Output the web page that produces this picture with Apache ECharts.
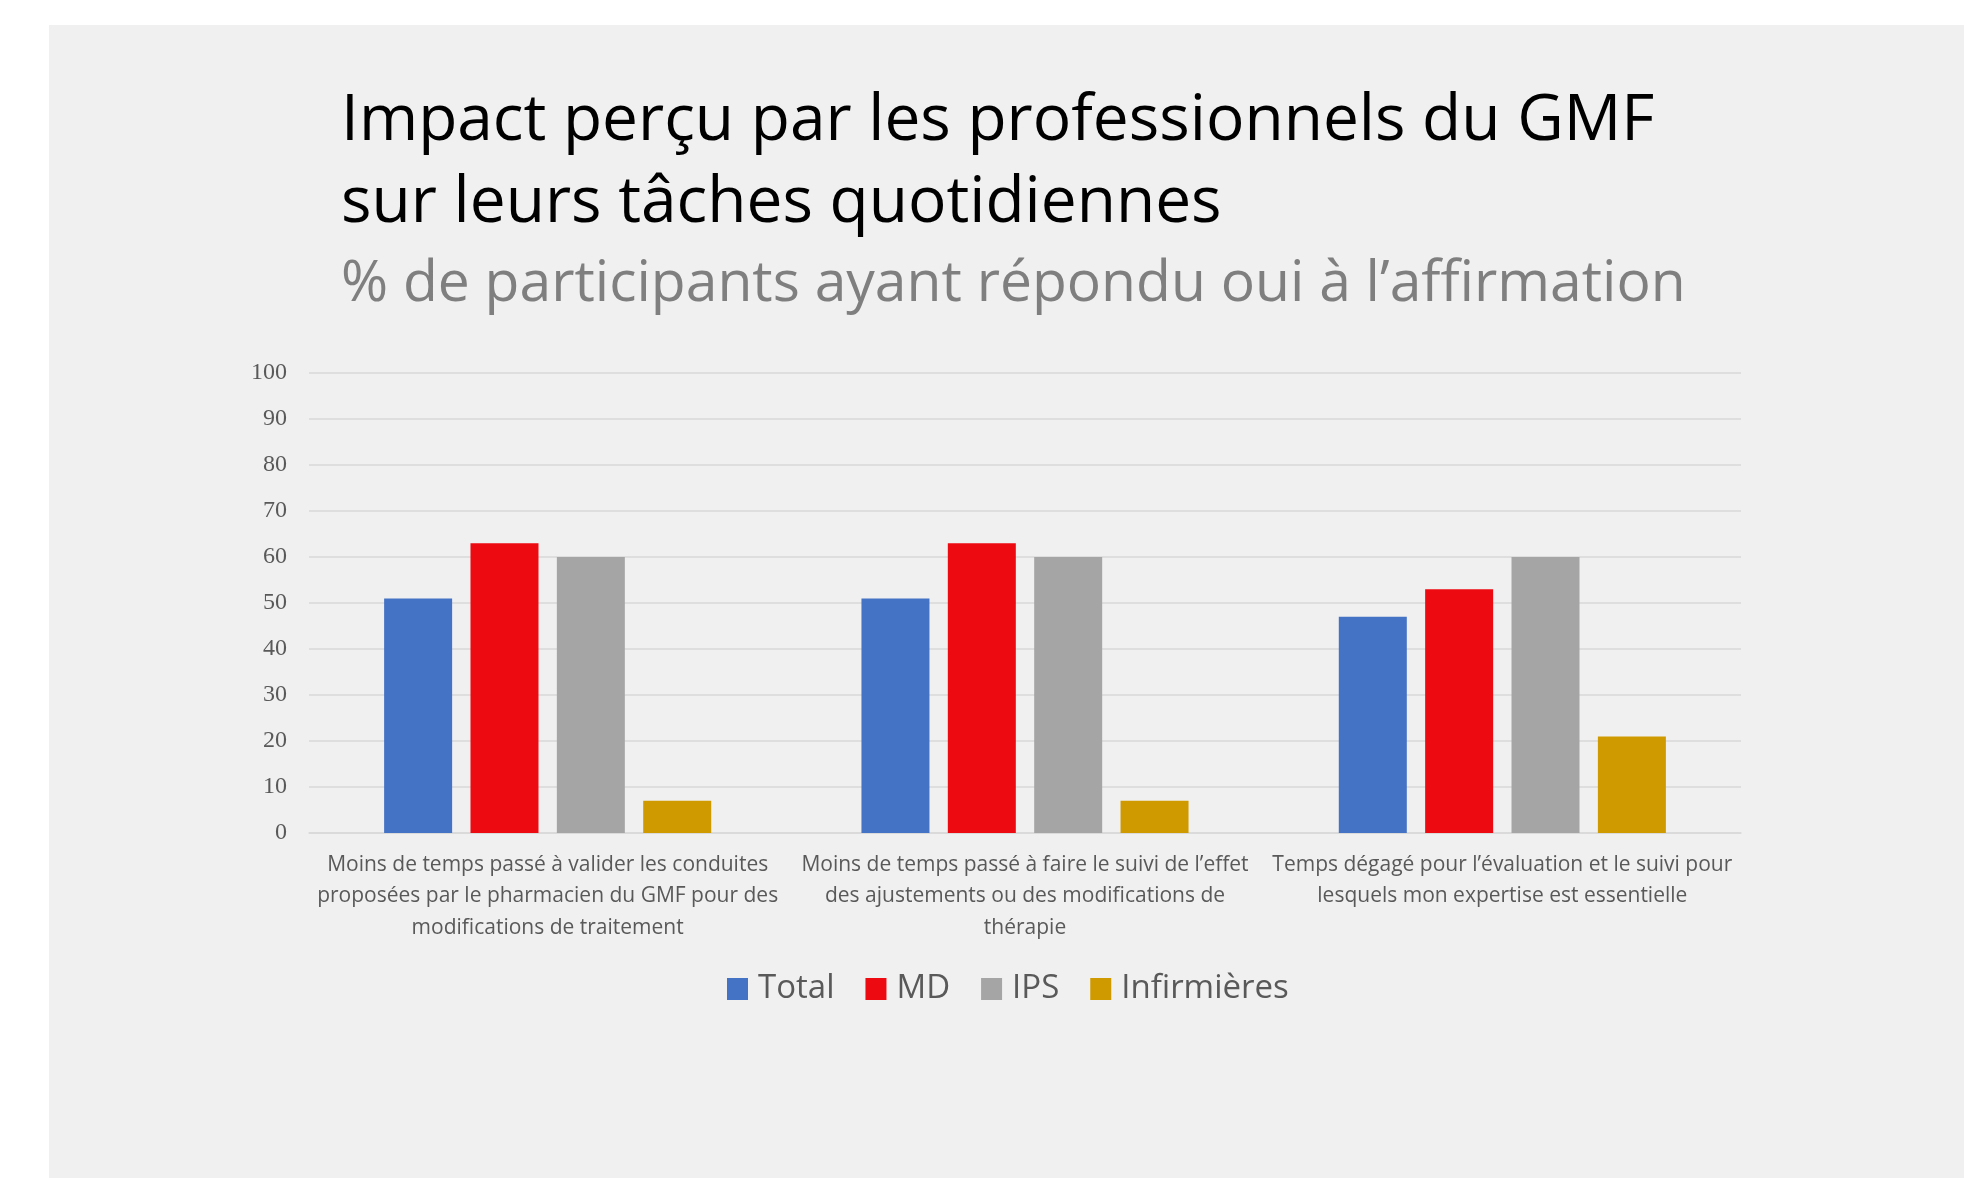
<!DOCTYPE html>
<html>
<head>
<meta charset="utf-8">
<script src="https://cdn.jsdelivr.net/npm/echarts@6/dist/echarts.min.js"></script>
<style>
  html, body { margin: 0; padding: 0; background: #ffffff; }
  #chart { width: 1964px; height: 1178px; }
</style>
</head>
<body>
<div id="chart"></div>
<script>
'use strict';
// categories (line breaks as in the picture)
var categories = [
    'Moins de temps passé à valider les conduites\nproposées par le pharmacien du GMF pour des\nmodifications de traitement',
    'Moins de temps passé à faire le suivi de l’effet\ndes ajustements ou des modifications de\nthérapie',
    'Temps dégagé pour l’évaluation et le suivi pour\nlesquels mon expertise est essentielle'
];
var seriesNames = ['Total', 'MD', 'IPS', 'Infirmières'];
var totalVals = [51, 51, 47];
var mdVals = [63, 63, 53];
var ipsVals = [60, 60, 60];
var infVals = [7, 7, 21];
var colors = ['#4472C4', '#EE0A11', '#A5A5A5', '#CF9A00'];

var FONT = '"Open Sans", sans-serif';

var myChart = echarts.init(document.getElementById('chart'));

function bar(name, data, color) {
    return {
        name: name,
        type: 'bar',
        data: data,
        barWidth: 68,
        barGap: '27%',
        itemStyle: { color: color },
        emphasis: { disabled: true }
    };
}

var option = {
    backgroundColor: '#ffffff',
    animation: false,
    graphic: [
        {   // grey slide background
            type: 'rect',
            left: 49, top: 25, z: -10,
            shape: { width: 1915, height: 1153 },
            style: { fill: '#F0F0F0' }
        }
    ],
    title: [
        {
            text: 'Impact perçu par les professionnels du GMF\nsur leurs tâches quotidiennes',
            left: 341, top: 81, padding: 0,
            textStyle: { fontFamily: FONT, fontSize: 64, fontWeight: 'normal', color: '#000000', lineHeight: 82 }
        },
        {
            text: '% de participants ayant répondu oui à l’affirmation',
            left: 341, top: 256, padding: 0,
            textStyle: { fontFamily: FONT, fontSize: 57, fontWeight: 'normal', color: '#7F7F7F', lineHeight: 57 }
        }
    ],
    legend: {
        data: seriesNames,
        left: 722, top: 966,
        icon: 'rect',
        itemWidth: 21, itemHeight: 22,
        itemGap: 31,
        textStyle: { fontFamily: FONT, fontSize: 33, color: '#595959', lineHeight: 36, padding: [0, 0, 0, 5] }
    },
    grid: { left: 309, right: 223, top: 373, bottom: 345 },
    xAxis: {
        type: 'category',
        data: categories,
        axisLine: { lineStyle: { color: '#D9D9D9', width: 1.5 } },
        axisTick: { show: false },
        axisLabel: {
            interval: 0,
            margin: 16,
            fontFamily: FONT, fontSize: 21, color: '#595959', lineHeight: 31.5
        }
    },
    yAxis: {
        type: 'value',
        min: 0, max: 100, interval: 10,
        axisLine: { show: false },
        axisTick: { show: false },
        axisLabel: { margin: 22, fontFamily: '"Liberation Serif", serif', fontSize: 24, color: '#595959' },
        splitLine: { lineStyle: { color: '#D9D9D9', width: 1.5 } }
    },
    series: [
        bar(seriesNames[0], totalVals, colors[0]),
        bar(seriesNames[1], mdVals, colors[1]),
        bar(seriesNames[2], ipsVals, colors[2]),
        bar(seriesNames[3], infVals, colors[3])
    ]
};
myChart.setOption(option);
</script>
</body>
</html>
